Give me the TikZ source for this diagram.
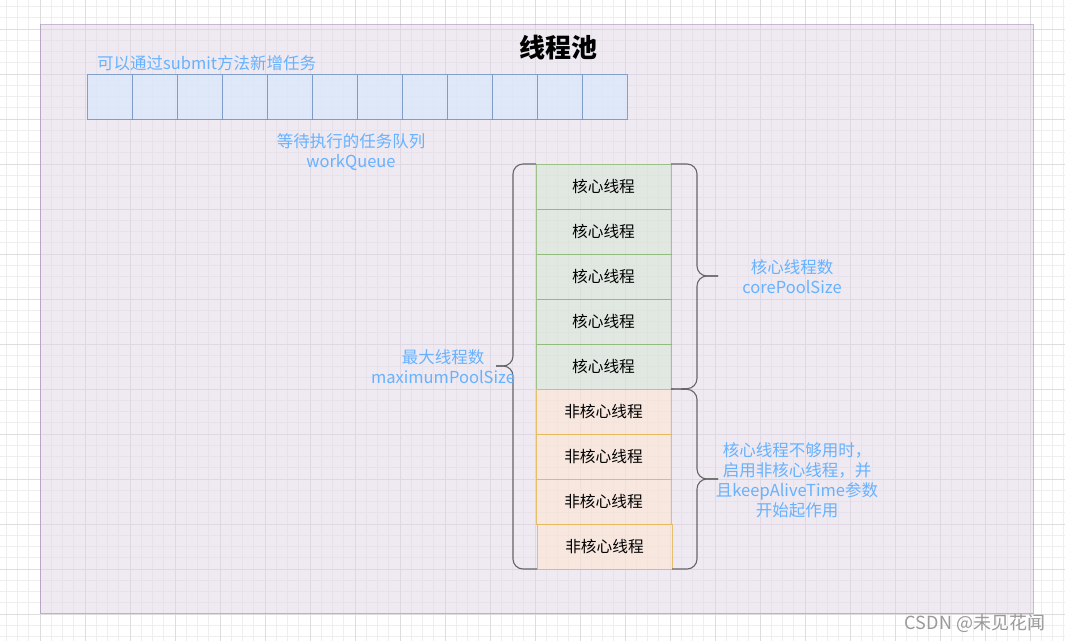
\documentclass[tikz,border=0pt]{standalone}
\usepackage{fontspec}
\setmainfont{Noto Sans CJK SC}
\definecolor{minorg}{HTML}{EEEEEE}
\definecolor{majorg}{HTML}{DDDDDD}
\definecolor{poolfill}{HTML}{E1D5E7}
\definecolor{pooldraw}{HTML}{9673A6}
\definecolor{qfill}{HTML}{DAE8FC}
\definecolor{qdraw}{HTML}{6C8EBF}
\definecolor{cfill}{HTML}{D5E8D4}
\definecolor{cdraw}{HTML}{82B366}
\definecolor{nfill}{HTML}{FFE6CC}
\definecolor{ndraw}{HTML}{E3B54E}
\definecolor{lblue}{HTML}{66B2FF}
\definecolor{bracec}{HTML}{666666}
\definecolor{wm}{HTML}{9A9A9A}
\tikzset{
  minorgrid/.style={draw=minorg, line width=0.8pt},
  majorgrid/.style={draw=majorg, line width=0.8pt},
  pool/.style={rectangle, draw=pooldraw, draw opacity=0.5, fill=poolfill, fill opacity=0.5, line width=1pt, inner sep=0pt, outer sep=0pt},
  qcell/.style={rectangle, draw=qdraw, draw opacity=0.8, fill=qfill, fill opacity=0.75, line width=1pt, minimum width=45pt, minimum height=45pt, inner sep=0pt, outer sep=0pt},
  corebox/.style={rectangle, draw=cdraw, draw opacity=0.7, fill=cfill, fill opacity=0.5, text opacity=1, line width=1pt, minimum width=135pt, minimum height=45pt, inner sep=0pt, outer sep=0pt, font=\fontsize{15.7}{18}\selectfont},
  ncbox/.style={rectangle, draw=ndraw, draw opacity=0.8, fill=nfill, fill opacity=0.5, text opacity=1, line width=1pt, minimum width=135pt, minimum height=45pt, inner sep=0pt, outer sep=0pt, font=\fontsize{15.7}{18}\selectfont},
  bluelbl/.style={text=lblue, align=center, font=\fontsize{16.5}{20}\selectfont, inner sep=0pt},
  bracepath/.style={draw=bracec, line width=1.1pt, rounded corners=10pt},
}
\begin{document}
\begin{tikzpicture}[x=1pt,y=-1pt]
\useasboundingbox (0,0) rectangle (1065,641);
\fill[white] (0,0) rectangle (1065,641);
% grid
\foreach \i in {-3,...,91} { \draw[minorgrid] ({40+11.25*\i},0) -- ({40+11.25*\i},641); }
\foreach \i in {-2,...,54} { \draw[minorgrid] (0,{29+11.25*\i}) -- (1065,{29+11.25*\i}); }
\foreach \i in {-1,...,23} { \draw[majorgrid] ({40+45*\i},0) -- ({40+45*\i},641); }
\foreach \i in {-1,...,14} { \draw[majorgrid] (0,{29+45*\i}) -- (1065,{29+45*\i}); }
% container
\node[pool, anchor=north west, minimum width=993pt, minimum height=589pt] (pool) at (40,24.5) {};
\node[font=\fontsize{26}{30}\selectfont\bfseries, inner sep=0pt] (title) at (558,48) {线程池};
% queue
\foreach \i in {1,...,12} { \node[qcell, anchor=north west] (q\i) at ({87+45*(\i-1)},74) {}; }
\node[bluelbl, anchor=south west] (submit) at (97,71) {可以通过submit方法新增任务};
\node[bluelbl] (wq) at (351,152) {等待执行的任务队列\\workQueue};
% threads
\foreach \i in {1,...,5} { \node[corebox, anchor=north west] (c\i) at (536,{164+45*(\i-1)}) {核心线程}; }
\foreach \i in {1,...,3} { \node[ncbox, anchor=north west] (n\i) at (536,{389+45*(\i-1)}) {非核心线程}; }
\node[ncbox, anchor=north west] (n4) at (537,524) {非核心线程};
% braces
\coordinate (ltip) at (496,366);
\draw[bracepath] (c1.north west) -- (513,164) -- (513,366) -- (ltip);
\draw[bracepath] (ltip) -- (513,366) -- (513,569) -- (n4.south west);
\coordinate (ctip) at (718,276);
\draw[bracepath] (c1.north east) -- (697,164) -- (697,276) -- (ctip);
\draw[bracepath] (ctip) -- (697,276) -- (697,388.5) -- (c5.south east);
\coordinate (ntip) at (718,479);
\draw[bracepath] (n1.north east) -- (697,389.5) -- (697,479) -- (ntip);
\draw[bracepath] (ntip) -- (697,479) -- (697,569) -- (n4.south east);
% labels
\node[bluelbl] (maxl) at (443,367) {最大线程数\\maximumPoolSize};
\node[bluelbl] (corel) at (792,277) {核心线程数\\corePoolSize};
\node[bluelbl] (ncl) at (797,480) {核心线程不够用时，\\启用非核心线程，并\\且keepAliveTime参数\\开始起作用};
\node[text=wm, font=\fontsize{18}{20}\selectfont, inner sep=0pt] (wmark) at (975,623) {CSDN @未见花闻};
\end{tikzpicture}
\end{document}
